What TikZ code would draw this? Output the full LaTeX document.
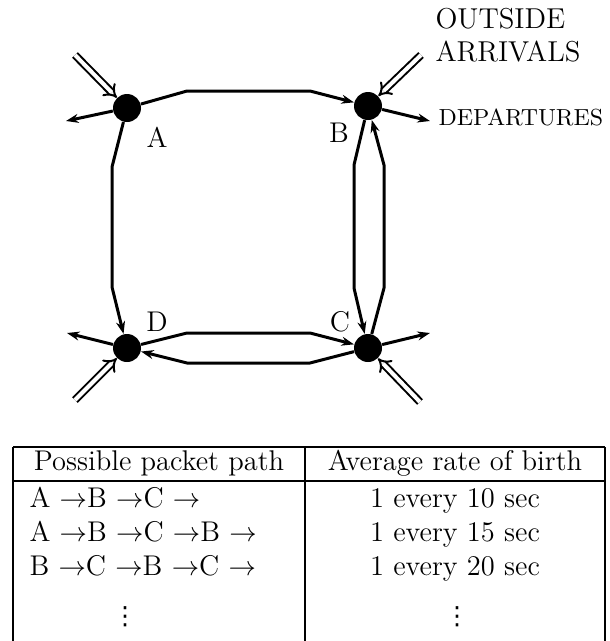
\documentclass[tikz,border=0pt]{standalone}
\usepackage{amsmath}
\usepackage{fontspec}
\newfontfamily\dvsans{DejaVu Sans}
\usetikzlibrary{arrows.meta}
\tikzset{
  dot/.style={circle,fill=black,inner sep=0pt,minimum size=11.2pt},
  lnk/.style={line width=1.2pt,line join=round,-{Stealth[length=5pt,width=3.6pt]}},
  inflow/.style={double,line width=0.8pt,double distance=1.6pt,-{Implies}},
  lbl/.style={font=\fontsize{11.4}{13}\selectfont,inner sep=0pt},
  cell/.style={font=\fontsize{11.4}{13}\selectfont,inner sep=0pt,anchor=base},
  vdot/.style={font=\dvsans\fontsize{10}{12}\selectfont,inner sep=0pt},
  rule/.style={line width=1pt},
}
\begin{document}
\begin{tikzpicture}[x=0.4pt,y=-0.4pt]
  \useasboundingbox (0,0) rectangle (610,641);
  % the four nodes
  \node[dot] (A) at (127,108) {};
  \node[dot] (B) at (368,106) {};
  \node[dot] (C) at (368,348) {};
  \node[dot] (D) at (127,348) {};
  \node[lbl] (la) at (157,137) {A};
  \node[lbl] (lb) at (339,133) {B};
  \node[lbl] (lc) at (340,322) {C};
  \node[lbl] (ld) at (157,322) {D};

  % free ends of the outside flows
  \coordinate (A-in) at (75,55);
  \coordinate (A-out) at (66,121);
  \coordinate (B-in) at (421,55);
  \coordinate (B-out) at (430,121);
  \coordinate (C-in) at (420,402);
  \coordinate (C-out) at (430,333);
  \coordinate (D-in) at (75,400);
  \coordinate (D-out) at (67,333);
  \foreach \n in {A,B,C,D}{
    \draw[inflow] (\n-in) -- (\n);
    \draw[lnk] (\n) -- (\n-out);
  }

  % links
  \draw[lnk] (A) -- (187,91) -- (310,91) -- (B);
  \draw[lnk] (A) -- (112,167) -- (112,287) -- (D);
  \draw[lnk] (D) -- (187,333) -- (310,333) -- (C);
  \draw[lnk] (C) -- (310,363) -- (187,363) -- (D);
  \draw[lnk] (B) -- (354,165) -- (354,288) -- (C);
  \draw[lnk] (C) -- (384,288) -- (384,165) -- (B);

  \node[font=\fontsize{11.5}{13.2}\selectfont,align=left,anchor=west,inner sep=0pt]
    (arr) at (435,35) {OUTSIDE\\ARRIVALS};
  \node[font=\fontsize{9.3}{11}\selectfont,anchor=west,inner sep=0pt]
    (dep) at (438,117.5) {DEPARTURES};

  % table
  \draw[rule] (13,447) -- (605,447);
  \draw[rule] (13,481) -- (605,481);
  \foreach \x in {13,305,605}
    \draw[rule] (\x,447) -- (\x,641);
  \node[cell] (h1) at (159,470) {Possible packet path};
  \node[cell] (h2) at (455,470) {Average rate of birth};
  \node[cell,anchor=base west] (p1) at (29,507) {A $\rightarrow$B $\rightarrow$C $\rightarrow$};
  \node[cell,anchor=base west] (p2) at (29,541) {A $\rightarrow$B $\rightarrow$C $\rightarrow$B $\rightarrow$};
  \node[cell,anchor=base west] (p3) at (29,575) {B $\rightarrow$C $\rightarrow$B $\rightarrow$C $\rightarrow$};
  \node[cell] (r1) at (455,507) {1 every 10 sec};
  \node[cell] (r2) at (455,541) {1 every 15 sec};
  \node[cell] (r3) at (455,575) {1 every 20 sec};
  \node[vdot] (p4) at (125,617) {⋮};
  \node[vdot] (r4) at (457,617) {⋮};
\end{tikzpicture}
\end{document}
